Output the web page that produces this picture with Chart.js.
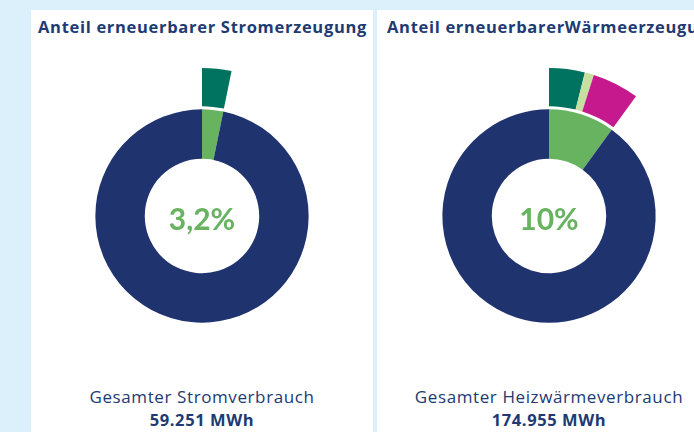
<!DOCTYPE html>
<html lang="de">
<head>
    <meta charset="UTF-8">
    <title>Anteil erneuerbarer Energien</title>
    <script src="https://cdn.jsdelivr.net/npm/chart.js"></script>
    <style>
        html, body {
            margin: 0;
            width: 694px;
            height: 432px;
            overflow: hidden;
            background-color: #dcf0fb;
            font-family: 'Open Sans', sans-serif;
            color: #213a73;
        }
        .panel {
            position: absolute;
            top: 10px;
            height: 440px;
            background-color: #ffffff;
            overflow: hidden;
        }
        #panel-strom { left: 31px; width: 342px; }
        #panel-waerme { left: 377px; width: 340px; }
        .panel h2 {
            margin: 0;
            position: absolute;
            top: 5px;
            left: 7px;
            font-size: 16.5px;
            font-weight: 700;
            white-space: nowrap;
            letter-spacing: 0.7px;
        }
        #panel-waerme h2 { left: 10px; }
        .panel canvas {
            position: absolute;
            top: 56px;
        }
        .summary {
            position: absolute;
            top: 375px;
            width: 342px;
            text-align: center;
            font-size: 17px;
            line-height: 23px;
            letter-spacing: 0.6px;
        }
        .summary b { font-weight: 700; font-size: 16.5px; }
        .preload { position: absolute; left: -999px; font-family: Lato; font-weight: 700; }
    </style>
</head>
<body>

<div class="panel" id="panel-strom">
    <h2>Anteil erneuerbarer Stromerzeugung</h2>
    <canvas id="chart-strom" width="300" height="300" style="left:21px"></canvas>
    <div class="summary" style="left:0">Gesamter Stromverbrauch<br><b>59.251 MWh</b></div>
</div>

<div class="panel" id="panel-waerme">
    <h2>Anteil erneuerbarerWärmeerzeugung</h2>
    <canvas id="chart-waerme" width="300" height="300" style="left:22px"></canvas>
    <div class="summary" style="left:22px;width:300px">Gesamter Heizwärmeverbrauch<br><b>174.955 MWh</b></div>
</div>
<span class="preload">0123456789,%</span>

<script>
// Anteile in Prozent
const stromAnteil = [3.2, 96.8];          // erneuerbar, konventionell
const stromQuellen = [3.2];               // Aufschlüsselung erneuerbar
const waermeAnteil = [10, 90];
const waermeQuellen = [3.9, 1.0, 5.1];

const NAVY = '#1f336f';
const GREEN = '#68b360';
const quellenFarben = ['#007360', '#c6e0a0', '#c5198d'];
const CENTER_FONT = 'bold 30px Lato';

// Rest der äusseren Ringe bleibt leer
function withRest(parts) {
    const sum = parts.reduce((a, b) => a + b, 0);
    return parts.concat([100 - sum]);
}

const centerText = {
    id: 'centerText',
    afterDraw(chart, args, opts) {
        const {ctx, chartArea} = chart;
        const x = (chartArea.left + chartArea.right) / 2;
        const y = (chartArea.top + chartArea.bottom) / 2;
        ctx.save();
        ctx.font = CENTER_FONT + ', sans-serif';
        ctx.fillStyle = GREEN;
        ctx.textAlign = 'center';
        ctx.textBaseline = 'middle';
        ctx.fillText(opts.value.toLocaleString('de-DE') + '%', x, y + 4);
        ctx.restore();
    }
};

function makeDonut(id, anteil, quellen) {
    return new Chart(document.getElementById(id), {
        type: 'doughnut',
        data: {
            labels: ['Erneuerbar', 'Konventionell'],
            datasets: [
                {
                    data: withRest(quellen),
                    backgroundColor: quellenFarben.slice(0, quellen.length).concat(['rgba(0,0,0,0)']),
                    weight: 38
                },
                {
                    // schmaler Abstand zwischen den Ringen
                    data: [100],
                    backgroundColor: ['rgba(0,0,0,0)'],
                    weight: 3
                },
                {
                    data: anteil,
                    backgroundColor: [GREEN, NAVY],
                    weight: 49
                }
            ]
        },
        options: {
            responsive: false,
            maintainAspectRatio: false,
            animation: false,
            events: [],
            radius: 148,
            cutout: 58,
            borderWidth: 0,
            layout: { padding: 0 },
            plugins: {
                legend: { display: false },
                tooltip: { enabled: false },
                centerText: { value: anteil[0] }
            }
        },
        plugins: [centerText]
    });
}

document.fonts.load(CENTER_FONT).then(() => {
    makeDonut('chart-strom', stromAnteil, stromQuellen);
    makeDonut('chart-waerme', waermeAnteil, waermeQuellen);
});
</script>
</body>
</html>
